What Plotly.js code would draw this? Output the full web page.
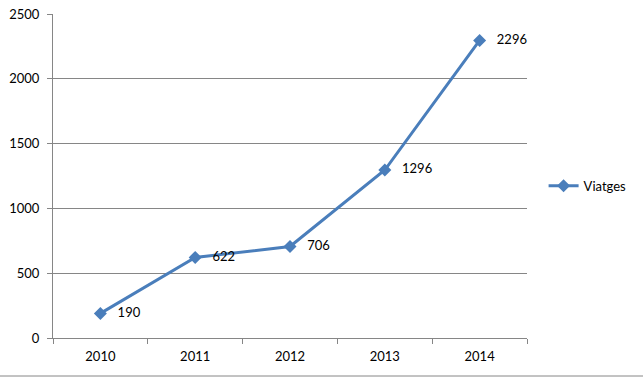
<!DOCTYPE html>
<html><head><meta charset="utf-8">
<script src="https://cdn.plot.ly/plotly-3.0.1.min.js"></script>
<style>body{margin:0;background:#fff}#c{width:644px;height:377px}</style>
</head><body><div id="c"></div>
<script>
var years = ['2010','2011','2012','2013','2014'];
var viatges = [190, 622, 706, 1296, 2296];
var seriesName = 'Viatges';

var trace = {
  x: years, y: viatges, type: 'scatter', mode: 'lines+markers+text',
  name: seriesName,
  text: viatges.map(function(v){return '   ' + v;}),
  textposition: 'middle right',
  textfont: {family: 'Lato, "Open Sans", sans-serif', size: 13, color: '#000'},
  line: {color: '#4A7EBB', width: 3},
  marker: {symbol: 'diamond', size: 10, color: '#4A7EBB'},
  cliponaxis: false
};
var layout = {
  width: 644, height: 377,
  margin: {l: 53, r: 117, t: 14, b: 39},
  paper_bgcolor: '#fff', plot_bgcolor: '#fff',
  font: {family: 'Lato, "Open Sans", sans-serif', size: 13, color: '#000'},
  showlegend: true,
  legend: {x: 1.035, y: 0.47, xanchor: 'left', yanchor: 'middle', font: {size: 13}},
  xaxis: {type: 'category', range: [-0.5, 4.5], tickson: 'boundaries', ticks: 'outside', ticklen: 5,
    tickcolor: '#868686', showline: true, linecolor: '#868686', linewidth: 1, showgrid: false,
    tickfont: {size: 13}, ticklabelstandoff: 6, fixedrange: true},
  yaxis: {range: [0, 2500], dtick: 500, ticks: 'outside', ticklen: 5, tickcolor: '#868686',
    showline: true, linecolor: '#868686', gridcolor: '#868686', gridwidth: 1, zeroline: false,
    tickfont: {size: 13}, ticklabelstandoff: 5, fixedrange: true},
  shapes: [{type: 'line', xref: 'paper', yref: 'paper', x0: -53/474, x1: 643/474 - 53/474,
    y0: -38/324, y1: -38/324, line: {color: '#868686', width: 1}}]
};
Plotly.newPlot('c', [trace], layout, {staticPlot: true});
</script></body></html>
